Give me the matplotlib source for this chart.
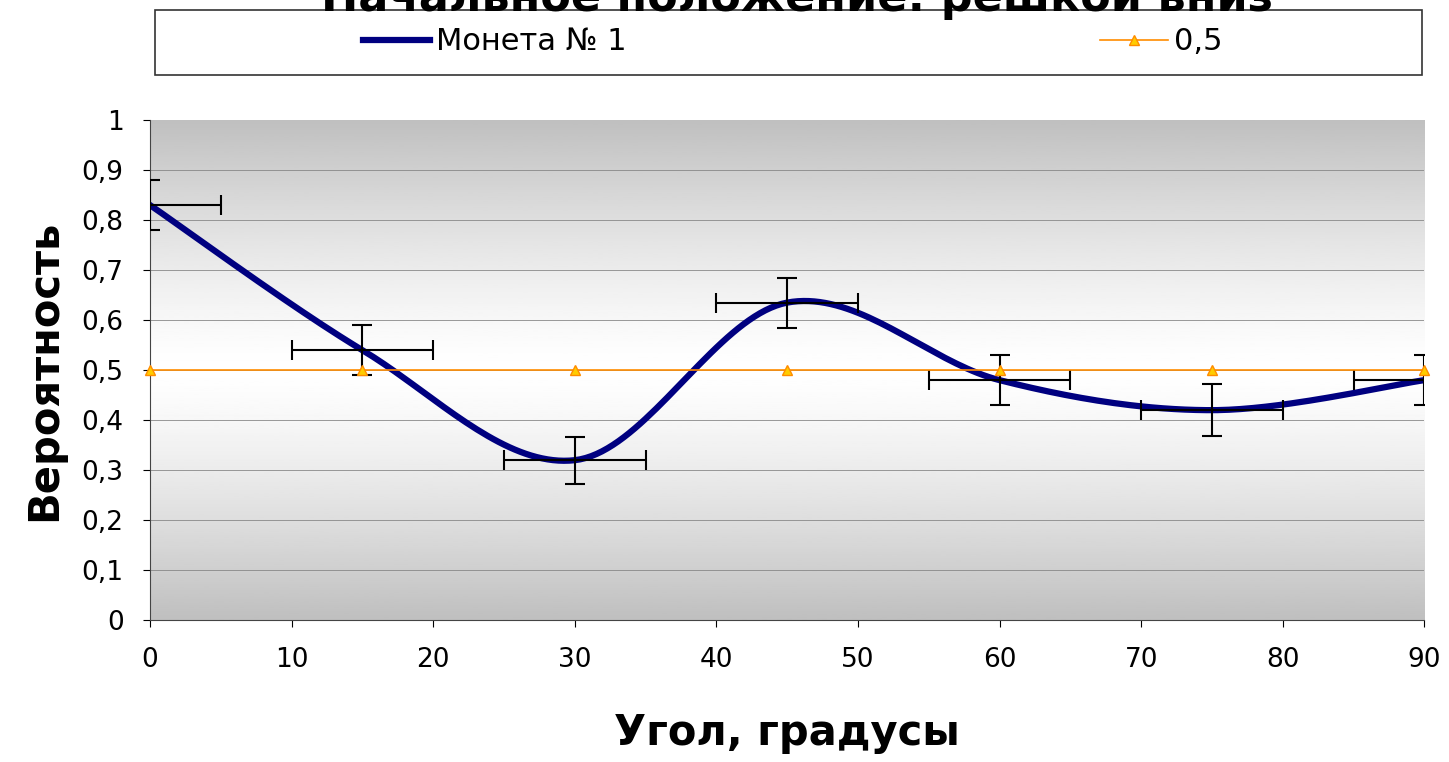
import matplotlib

matplotlib.use("Agg")

import matplotlib.pyplot as plt
import numpy as np
from matplotlib.patches import Rectangle

angles = [0, 15, 30, 45, 60, 75, 90]
coin1 = [0.83, 0.54, 0.32, 0.635, 0.48, 0.42, 0.48]
y_err = [0.05, 0.05, 0.047, 0.05, 0.05, 0.052, 0.05]
x_err = 5
half = [0.5] * len(angles)


def smooth(xs, ys, n=40):
    # Catmull-Rom style smoothing like spreadsheet "smoothed line"
    p = np.column_stack([xs, ys]).astype(float)
    p = np.vstack([p[0], p, p[-1]])
    out = []
    for i in range(1, len(p) - 2):
        p0, p1, p2, p3 = p[i - 1], p[i], p[i + 1], p[i + 2]
        t = np.linspace(0, 1, n)[:, None]
        c = 0.5 * ((2 * p1) + (-p0 + p2) * t + (2 * p0 - 5 * p1 + 4 * p2 - p3) * t ** 2
                   + (-p0 + 3 * p1 - 3 * p2 + p3) * t ** 3)
        out.append(c)
    c = np.vstack(out)
    return c[:, 0], c[:, 1]


fig = plt.figure(figsize=(14.49, 7.62), dpi=100)
ax = fig.add_axes([0.1035, 0.186, 0.8795, 0.6565])

grad = np.abs(np.linspace(-1, 1, 256)) ** 1.3
grad = 1 - 0.25 * grad
ax.imshow(grad[:, None], extent=[0, 90, 0, 1], aspect="auto", cmap="gray",
          vmin=0, vmax=1, zorder=0)

for y in np.arange(0.1, 1.0, 0.1):
    ax.axhline(y, color="#888888", lw=0.6, zorder=1)

sx, sy = smooth(angles, coin1)
l1, = ax.plot(sx, sy, color="#000080", lw=4.5, zorder=3, label="Монета № 1")
ax.errorbar(angles, coin1, yerr=y_err, xerr=x_err, fmt="none", ecolor="black",
            elinewidth=1.5, capsize=7, capthick=1.5, zorder=4)
l2, = ax.plot(angles, half, color="#ff8c00", lw=1.2, marker="^", markersize=7,
              markerfacecolor="#ffcc00", markeredgecolor="#ff8c00", zorder=5,
              label="0,5", clip_on=False)

ax.set_xlim(0, 90)
ax.set_ylim(0, 1)
ax.set_xticks(range(0, 91, 10))
ax.set_yticks(np.arange(0, 1.01, 0.1))
ax.set_yticklabels(["0"] + [f"{v:.1f}".replace(".", ",") for v in np.arange(0.1, 0.95, 0.1)] + ["1"])
ax.tick_params(labelsize=19, direction="out", length=5, pad=14)
for s in ["top", "right"]:
    ax.spines[s].set_visible(False)
ax.spines["bottom"].set_color("#444444")
ax.spines["left"].set_color("#444444")

ax.set_xlabel("Угол, градусы", fontsize=30, fontweight="bold", labelpad=28)
ax.set_ylabel("Вероятность", fontsize=30, fontweight="bold", labelpad=12)

fig.text(0.55, 1 - 11 / 762, "Начальное положение: решкой вниз", fontsize=32,
         fontweight="bold", ha="center", va="baseline")

# legend box
fig.patches.append(Rectangle((155 / 1449, 1 - 75 / 762), 1267 / 1449, 65 / 762,
                             transform=fig.transFigure, facecolor="white",
                             edgecolor="#333333", lw=1.2, zorder=1))
leg = fig.legend(handles=[l1, l2], loc="center", bbox_to_anchor=(0.547, 1 - 42 / 762),
                 ncol=2, fontsize=22, frameon=False, handlelength=2.2,
                 handletextpad=0.2, columnspacing=15.5)

fig.savefig("out.png", dpi=100)
